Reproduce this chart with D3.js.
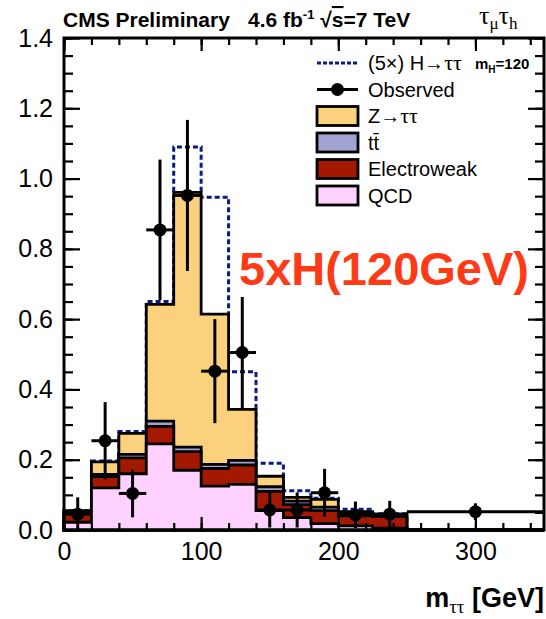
<!DOCTYPE html>
<html>
<head>
<meta charset="utf-8">
<script src="https://cdn.jsdelivr.net/npm/d3@7/dist/d3.min.js"></script>
<style>
  body { margin: 0; background: #fff; }
  svg { display: block; }
  text { font-family: "Liberation Sans", Arial, Helvetica, sans-serif; fill: #000; }
  .greek { font-family: "Liberation Serif", "Times New Roman", serif; }
</style>
</head>
<body>
<svg id="chart" width="546" height="619"></svg>
<script>
// Bin edges of the m_tautau distribution [GeV]
const binEdges = [0, 20, 40, 60, 80, 100, 120, 140, 160, 180, 200, 225, 250, 350];

// Background contributions per bin (events / GeV, stacked bottom to top)
const qcd         = [0.022, 0.120, 0.160, 0.245, 0.170, 0.125, 0.130, 0.055, 0.035, 0.018, 0.012, 0.005, 0];
const electroweak = [0.025, 0.032, 0.045, 0.050, 0.053, 0.050, 0.055, 0.055, 0.037, 0.037, 0.028, 0.033, 0];
const ttbar       = [0.003, 0.006, 0.010, 0.015, 0.013, 0.012, 0.013, 0.013, 0.010, 0.010, 0.006, 0.004, 0];
const ztautau     = [0.005, 0.036, 0.060, 0.332, 0.725, 0.427, 0.145, 0.030, 0.011, 0.022, 0.006, 0.003, 0];

// Signal (5 x H->tautau, mH = 120) added on top of the background stack
const higgs5x     = [0.000, 0.002, 0.005, 0.008, 0.129, 0.333, 0.107, 0.037, 0.019, 0.003, 0.007, 0.001, 0];

// Observed data: bin centres, values and statistical errors
const obsCenters  = [10, 30, 50, 70, 90, 110, 130, 150, 170, 190, 212.5, 237.5, 300];
const observed    = [0.045, 0.254, 0.104, 0.854, 0.952, 0.452, 0.505, 0.057, 0.057, 0.106, 0.043, 0.045, 0.052];
const observedErr = [0.048, 0.110, 0.068, 0.200, 0.215, 0.148, 0.158, 0.050, 0.050, 0.068, 0.038, 0.038, 0.024];

// Axis ticks
const xMajorTicks = [0, 100, 200, 300];
const xMinorTicks = d3.range(0, 351, 20);
const yMajorTicks = [0, 0.2, 0.4, 0.6, 0.8, 1.0, 1.2, 1.4];
const yMinorTicks = d3.range(0, 1.4001, 0.05);

const colors = {
  qcd: "#ffd1fe",
  electroweak: "#a51800",
  ttbar: "#a3a3d1",
  ztautau: "#fcd17d",
  higgs: "#0b1a85"
};

const svg = d3.select("#chart");
const frame = { left: 64, right: 544, top: 38, bottom: 530 };

const x = d3.scaleLinear().domain([0, 350]).range([frame.left, frame.right]);
const y = d3.scaleLinear().domain([0, 1.4]).range([frame.bottom, frame.top]);

// Per-bin table for the stack layout
const keys = ["qcd", "electroweak", "ttbar", "ztautau"];
const table = qcd.map((_, i) => ({
  qcd: qcd[i], electroweak: electroweak[i], ttbar: ttbar[i], ztautau: ztautau[i]
}));
const stacked = d3.stack().keys(keys)(table);

// Step points: one per bin left edge plus the closing right edge
function stepPoints(vals) {
  const pts = vals.map((v, i) => ({ e: binEdges[i], v }));
  pts.push({ e: binEdges[binEdges.length - 1], v: vals[vals.length - 1] });
  return pts;
}

const stepArea = d3.area()
  .x(d => x(d.e)).y0(y(0)).y1(d => y(d.v))
  .curve(d3.curveStepAfter);
const stepLine = d3.line()
  .x(d => x(d.e)).y(d => y(d.v))
  .curve(d3.curveStepAfter);

const plot = svg.append("g");

// Signal outline (stack total + 5 x H)
const totals = table.map(r => keys.reduce((s, k) => s + r[k], 0));
const signalTop = totals.map((t, i) => t + higgs5x[i]);
const sigPts = [{ e: binEdges[0], v: 0 }].concat(stepPoints(signalTop));
plot.append("path")
  .attr("d", stepLine(sigPts))
  .attr("fill", "none")
  .attr("stroke", colors.higgs)
  .attr("stroke-width", 3)
  .attr("stroke-dasharray", "5,3");

// Cumulative histograms, drawn from the top of the stack down
stacked.slice().reverse().forEach(series => {
  const cum = series.map(d => d[1]);
  plot.append("path")
    .attr("d", stepArea(stepPoints(cum)))
    .attr("fill", colors[series.key])
    .attr("stroke", "#000")
    .attr("stroke-width", 2.8)
    .attr("stroke-linejoin", "miter");
});

// Axes with inward ticks on all four sides
function styleAxis(g) {
  g.select(".domain").remove();
  g.selectAll(".tick line").attr("stroke", "#000").attr("stroke-width", 2.2);
  g.selectAll("text").style("font-size", "25px")
    .style("font-family", '"Liberation Sans", Arial, sans-serif');
}
const axes = svg.append("g");
axes.append("g").attr("transform", `translate(0,${frame.bottom})`)
  .call(d3.axisBottom(x).tickValues(xMinorTicks).tickSize(-7).tickFormat(""))
  .call(styleAxis);
axes.append("g").attr("transform", `translate(0,${frame.bottom})`)
  .call(d3.axisBottom(x).tickValues(xMajorTicks).tickSize(-13).tickPadding(12).tickFormat(d3.format("d")))
  .call(styleAxis);
axes.append("g").attr("transform", `translate(0,${frame.top})`)
  .call(d3.axisTop(x).tickValues(xMinorTicks).tickSize(-7).tickFormat(""))
  .call(styleAxis);
axes.append("g").attr("transform", `translate(0,${frame.top})`)
  .call(d3.axisTop(x).tickValues(xMajorTicks).tickSize(-13).tickFormat(""))
  .call(styleAxis);
axes.append("g").attr("transform", `translate(${frame.left},0)`)
  .call(d3.axisLeft(y).tickValues(yMinorTicks).tickSize(-9).tickFormat(""))
  .call(styleAxis);
axes.append("g").attr("transform", `translate(${frame.left},0)`)
  .call(d3.axisLeft(y).tickValues(yMajorTicks).tickSize(-16).tickPadding(11).tickFormat(d3.format(".1f")))
  .call(styleAxis);
axes.append("g").attr("transform", `translate(${frame.right},0)`)
  .call(d3.axisRight(y).tickValues(yMinorTicks).tickSize(-9).tickFormat(""))
  .call(styleAxis);
axes.append("g").attr("transform", `translate(${frame.right},0)`)
  .call(d3.axisRight(y).tickValues(yMajorTicks).tickSize(-16).tickFormat(""))
  .call(styleAxis);

// Observed data with error bars
const obs = svg.append("g");
observed.forEach((v, i) => {
  const cx = x(obsCenters[i]);
  obs.append("line")
    .attr("x1", cx).attr("x2", cx)
    .attr("y1", y(Math.max(0, v - observedErr[i]))).attr("y2", y(v + observedErr[i]))
    .attr("stroke", "#000").attr("stroke-width", 3);
  obs.append("line")
    .attr("x1", x(binEdges[i])).attr("x2", x(binEdges[i + 1]))
    .attr("y1", y(v)).attr("y2", y(v))
    .attr("stroke", "#000").attr("stroke-width", 3);
  obs.append("circle")
    .attr("cx", cx).attr("cy", y(v)).attr("r", 6.5).attr("fill", "#000");
});

// Frame
svg.append("rect")
  .attr("x", frame.left).attr("y", frame.top)
  .attr("width", frame.right - frame.left).attr("height", frame.bottom - frame.top)
  .attr("fill", "none").attr("stroke", "#000").attr("stroke-width", 3);

// Legend
const legend = svg.append("g");
const lx = 317, lw = 41, rowY = [63, 89.5, 116, 142.5, 169, 195.5];
legend.append("line")
  .attr("x1", lx).attr("x2", lx + lw).attr("y1", rowY[0]).attr("y2", rowY[0])
  .attr("stroke", colors.higgs).attr("stroke-width", 3).attr("stroke-dasharray", "4,2");
legend.append("line")
  .attr("x1", lx).attr("x2", lx + lw).attr("y1", rowY[1]).attr("y2", rowY[1])
  .attr("stroke", "#000").attr("stroke-width", 3);
legend.append("circle").attr("cx", lx + lw / 2).attr("cy", rowY[1]).attr("r", 6.5).attr("fill", "#000");
["ztautau", "ttbar", "electroweak", "qcd"].forEach((k, i) => {
  legend.append("rect")
    .attr("x", lx).attr("y", rowY[i + 2] - 9.5).attr("width", lw).attr("height", 19)
    .attr("fill", colors[k]).attr("stroke", "#000").attr("stroke-width", 2.8);
});

const tx = 368, fs = 20;
const t0 = legend.append("text").attr("x", tx).attr("y", rowY[0] + 7).style("font-size", fs + "px");
t0.append("tspan").text("(5×) H→");
t0.append("tspan").attr("class", "greek").style("font-size", "22px").text("ττ");
const tm = legend.append("text").attr("x", 475).attr("y", rowY[0] + 6)
  .style("font-size", "15px").style("font-weight", "bold");
tm.append("tspan").text("m");
tm.append("tspan").attr("dy", 4).style("font-size", "10px").text("H");
tm.append("tspan").attr("dy", -4).text("=120");

legend.append("text").attr("x", tx).attr("y", rowY[1] + 7).style("font-size", fs + "px").text("Observed");
const tz = legend.append("text").attr("x", tx).attr("y", rowY[2] + 7).style("font-size", fs + "px");
tz.append("tspan").text("Z→");
tz.append("tspan").attr("class", "greek").style("font-size", "22px").text("ττ");
legend.append("text").attr("x", tx).attr("y", rowY[3] + 7).style("font-size", fs + "px").text("tt\u0304");
legend.append("text").attr("x", tx).attr("y", rowY[4] + 7).style("font-size", fs + "px").text("Electroweak");
legend.append("text").attr("x", tx).attr("y", rowY[5] + 7).style("font-size", fs + "px").text("QCD");

// Header
svg.append("text").attr("x", 63).attr("y", 27)
  .style("font-size", "21px").style("font-weight", "bold").text("CMS Preliminary");
const lumi = svg.append("text").attr("x", 248).attr("y", 27)
  .style("font-size", "21px").style("font-weight", "bold");
lumi.append("tspan").text("4.6 fb");
lumi.append("tspan").attr("dy", -8).style("font-size", "13px").text("-1");
lumi.append("tspan").attr("dy", 8).text(" √");
lumi.append("tspan").style("text-decoration", "overline").text("s");
lumi.append("tspan").text("=7 TeV");

const chan = svg.append("text").attr("class", "greek").attr("x", 479).attr("y", 24).style("font-size", "26px");
chan.append("tspan").text("τ");
chan.append("tspan").attr("dy", 5).style("font-size", "17px").text("μ");
chan.append("tspan").attr("dy", -5).text("τ");
chan.append("tspan").attr("dy", 5).style("font-size", "17px").text("h");

// Signal annotation
svg.append("text").attr("x", 239).attr("y", 285)
  .style("font-size", "47px").style("font-weight", "bold").style("fill", "#ff3a17")
  .text("5xH(120GeV)");

// x-axis title
const xt = svg.append("text").attr("x", 544).attr("y", 607).attr("text-anchor", "end")
  .style("font-size", "27px").style("font-weight", "bold");
xt.append("tspan").text("m");
xt.append("tspan").attr("class", "greek").attr("dy", 6).style("font-size", "19px").style("font-weight", "normal").text("ττ");
xt.append("tspan").attr("dy", -6).text(" [GeV]");
</script>
</body>
</html>
